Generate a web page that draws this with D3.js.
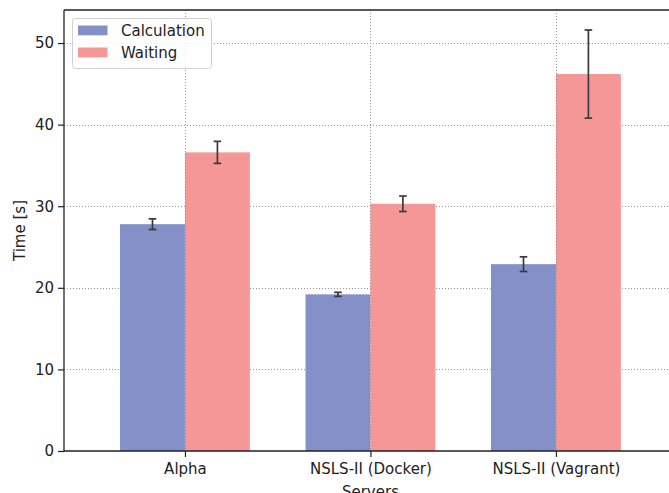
<!DOCTYPE html>
<html><head><meta charset="utf-8">
<script src="https://cdn.jsdelivr.net/npm/d3@7"></script>
<style>body{margin:0;background:#fff}svg{display:block}text{font-family:"DejaVu Sans",sans-serif}</style>
</head><body>
<script>
const categories = ["Alpha", "NSLS-II (Docker)", "NSLS-II (Vagrant)"];
const seriesNames = ["Calculation", "Waiting"];
const calcValues = [27.8, 19.2, 22.9];
const calcErrors = [0.65, 0.25, 0.9];
const waitValues = [36.6, 30.3, 46.2];
const waitErrors = [1.35, 0.95, 5.4];
const yTicks = [0, 10, 20, 30, 40, 50];
const colors = ["#8391c8", "#f59797"];

(function () {
const W = 669, H = 493;
const pLeft = 64, pTop = 10, pBottom = 451;
const barW = 0.35;
const FS = 15;
const svg = d3.select("body").append("svg").attr("width", W).attr("height", H);

const y = d3.scaleLinear().domain([0, 54.05]).range([pBottom, pTop]);
const x = d3.scaleLinear().domain([-0.477, 3.0]).range([pLeft, pLeft + 3.477 * 185.5]);

// horizontal grid
svg.append("g").selectAll("line").data(yTicks.filter(t => t > 0)).join("line")
  .attr("x1", pLeft).attr("x2", W).attr("y1", d => Math.round(y(d)) + 0.5).attr("y2", d => Math.round(y(d)) + 0.5)
  .attr("stroke", "#8a8a8a").attr("stroke-width", 0.9).attr("stroke-dasharray", "1,2");

// bars
const series = [
  {name: seriesNames[0], vals: calcValues, errs: calcErrors, off: 0, color: colors[0]},
  {name: seriesNames[1], vals: waitValues, errs: waitErrors, off: barW, color: colors[1]}
];
series.forEach(s => {
  svg.append("g").selectAll("rect").data(s.vals).join("rect")
    .attr("x", (d, i) => x(i + s.off - barW / 2))
    .attr("width", (d, i) => x(i + s.off + barW / 2) - x(i + s.off - barW / 2))
    .attr("y", d => y(d)).attr("height", d => y(0) - y(d))
    .attr("fill", s.color);
});

// vertical grid
svg.append("g").selectAll("line").data(categories).join("line")
  .attr("x1", (d, i) => Math.round(x(i + barW / 2)) + 0.5).attr("x2", (d, i) => Math.round(x(i + barW / 2)) + 0.5)
  .attr("y1", pTop).attr("y2", pBottom)
  .attr("stroke", "#8a8a8a").attr("stroke-width", 0.9).attr("stroke-dasharray", "1,2");

// error bars
series.forEach(s => {
  const eg = svg.append("g").attr("stroke", "#3a3a3a").attr("stroke-width", 1.7);
  s.vals.forEach((v, i) => {
    const cx = x(i + s.off);
    const e = s.errs[i];
    eg.append("line").attr("x1", cx).attr("x2", cx).attr("y1", y(v - e)).attr("y2", y(v + e));
    eg.append("line").attr("x1", cx - 3.8).attr("x2", cx + 3.8).attr("y1", y(v - e)).attr("y2", y(v - e));
    eg.append("line").attr("x1", cx - 3.8).attr("x2", cx + 3.8).attr("y1", y(v + e)).attr("y2", y(v + e));
  });
});

// axes
const yAxis = d3.axisLeft(y).tickValues(yTicks).tickSize(6).tickPadding(4);
const ya = svg.append("g").attr("transform", `translate(${pLeft},0)`).call(yAxis);
ya.select(".domain").remove();
ya.selectAll("text").attr("font-size", FS).attr("fill", "#222");
ya.selectAll("line").attr("stroke", "#222").attr("stroke-width", 1.2);

const xAxis = d3.axisBottom(x).tickValues(categories.map((c, i) => i + barW / 2))
  .tickFormat((d, i) => categories[i]).tickSize(6).tickPadding(6);
const xa = svg.append("g").attr("transform", `translate(0,${pBottom})`).call(xAxis);
xa.select(".domain").remove();
xa.selectAll("text").attr("font-size", FS).attr("fill", "#222");
xa.selectAll("line").attr("stroke", "#222").attr("stroke-width", 1.2);

// spines
svg.append("line").attr("x1", pLeft).attr("x2", pLeft).attr("y1", pTop).attr("y2", pBottom + 0.5).attr("stroke", "#222").attr("stroke-width", 1.3);
svg.append("line").attr("x1", pLeft).attr("x2", W).attr("y1", pBottom).attr("y2", pBottom).attr("stroke", "#222").attr("stroke-width", 1.3);
svg.append("line").attr("x1", pLeft).attr("x2", W).attr("y1", pTop).attr("y2", pTop).attr("stroke", "#222").attr("stroke-width", 1.3);

// labels
svg.append("text").attr("transform", `translate(25,${(pTop + pBottom) / 2}) rotate(-90)`)
  .attr("text-anchor", "middle").attr("font-size", FS).attr("fill", "#222").text("Time [s]");
svg.append("text").attr("x", x(1 + barW / 2)).attr("y", 497).attr("text-anchor", "middle")
  .attr("font-size", FS).attr("fill", "#222").text("Servers");

// legend
const lg = svg.append("g");
lg.append("rect").attr("x", 72.5).attr("y", 18.5).attr("width", 139).attr("height", 50).attr("rx", 3)
  .attr("fill", "#fff").attr("fill-opacity", 0.85).attr("stroke", "#d0d0d0");
series.forEach((s, k) => {
  lg.append("rect").attr("x", 78).attr("y", 25.5 + k * 22).attr("width", 29.5).attr("height", 9.8).attr("fill", s.color);
  lg.append("text").attr("x", 121).attr("y", 36 + k * 22).attr("font-size", FS).attr("fill", "#222").text(s.name);
});
})();
</script>
</body></html>
